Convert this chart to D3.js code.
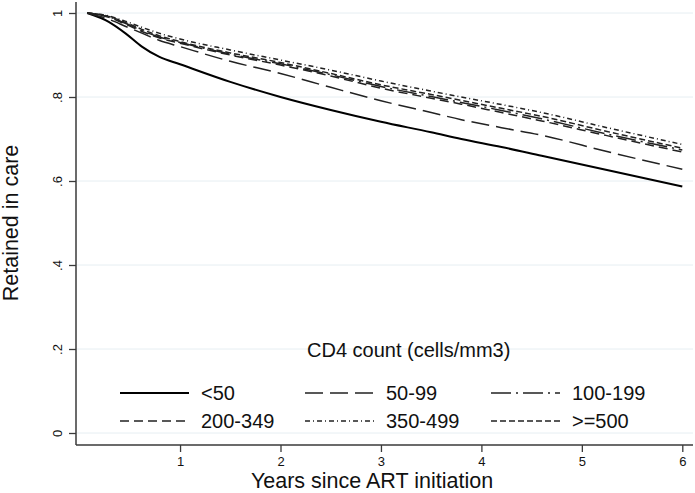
<!DOCTYPE html>
<html>
<head>
<meta charset="utf-8">
<script src="https://cdn.jsdelivr.net/npm/d3@7"></script>
<style>
  html, body { margin: 0; padding: 0; background: #fff; }
  svg { display: block; font-family: "Liberation Sans", Arial, sans-serif; }
</style>
</head>
<body>
<svg id="chart" width="695" height="493"></svg>
<script>
// ---- data ----
const years = [0.075, 0.29, 0.46, 0.62, 0.79, 1.0, 1.5, 2.0, 2.5, 3.0, 3.5, 3.8, 4.2, 4.6, 5.25, 6.0];
const cd4_lt50    = [1, .979, .951, .920, .896, .878, .836, .800, .769, .741, .716, .700, .681, .660, .626, .587];
const cd4_50_99   = [1, .985, .968, .952, .935, .920, .885, .856, .823, .791, .763, .746, .727, .709, .670, .628];
const cd4_100_199 = [1, .991, .975, .958, .943, .930, .902, .879, .853, .825, .801, .787, .768, .748, .712, .674];
const cd4_200_349 = [1, .990, .973, .956, .941, .928, .900, .876, .850, .821, .797, .783, .763, .743, .708, .669];
const cd4_350_499 = [1, .993, .980, .966, .952, .938, .912, .888, .864, .838, .814, .800, .782, .763, .727, .687];
const cd4_ge500   = [1, .992, .977, .961, .946, .932, .905, .882, .856, .829, .806, .792, .773, .754, .718, .678];
const seriesNames = ["<50", "50-99", "100-199", "200-349", "350-499", ">=500"];
const seriesValues = [cd4_lt50, cd4_50_99, cd4_100_199, cd4_200_349, cd4_350_499, cd4_ge500];
const xTicks = [1, 2, 3, 4, 5, 6];
const yTicks = [0, 0.2, 0.4, 0.6, 0.8, 1];
const yTickLabels = ["0", ".2", ".4", ".6", ".8", "1"];

// ---- styles ----
const dashes = [null, "18,7", "20,5,2,5", "9,5", "5,3,1,3", "6,3"];
const widths = [2, 1.5, 1.5, 1.5, 1.5, 1.5];
const colors = ["#000", "#222", "#222", "#222", "#222", "#222"];

const svg = d3.select("#chart");
const x = d3.scaleLinear().domain([0, 6]).range([79.6, 682.3]);
const y = d3.scaleLinear().domain([0, 1]).range([433, 13]);
const plotLeft = 76, plotRight = 693, plotTop = 2, plotBottom = 445;

// gridlines
svg.append("g").selectAll("line").data(yTicks).join("line")
  .attr("x1", plotLeft + 1).attr("x2", plotRight)
  .attr("y1", d => y(d)).attr("y2", d => y(d))
  .attr("stroke", "#e6eef2").attr("stroke-width", 1);

// curves
const line = d3.line().x(d => x(d[0])).y(d => y(d[1])).curve(d3.curveMonotoneX);
seriesValues.forEach((vals, i) => {
  svg.append("path")
    .datum(years.map((t, j) => [t, vals[j]]))
    .attr("d", line)
    .attr("fill", "none")
    .attr("stroke", colors[i])
    .attr("stroke-width", widths[i])
    .attr("stroke-dasharray", dashes[i]);
});

// axes
const axisColor = "#3a3a3a";
const xAxis = svg.append("g").attr("transform", `translate(0,${plotBottom})`)
  .call(d3.axisBottom(x).tickValues(xTicks).tickFormat(d3.format("d")).tickSize(7).tickSizeOuter(0).tickPadding(5));
xAxis.select(".domain").remove();
xAxis.selectAll(".tick line").attr("stroke", axisColor).attr("stroke-width", 1.3);
xAxis.selectAll(".tick text").attr("font-size", 13).attr("fill", "#111")
  .attr("font-family", "Liberation Sans, Arial, sans-serif");
svg.append("line").attr("x1", plotLeft).attr("x2", plotRight)
  .attr("y1", plotBottom).attr("y2", plotBottom)
  .attr("stroke", axisColor).attr("stroke-width", 1.5);

const yAxis = svg.append("g").attr("transform", `translate(${plotLeft},0)`)
  .call(d3.axisLeft(y).tickValues(yTicks).tickFormat((d, i) => yTickLabels[i]).tickSize(7).tickSizeOuter(0));
yAxis.select(".domain").remove();
yAxis.selectAll(".tick line").attr("stroke", axisColor).attr("stroke-width", 1.3);
yAxis.selectAll(".tick text")
  .attr("font-size", 13).attr("fill", "#111")
  .attr("font-family", "Liberation Sans, Arial, sans-serif")
  .attr("text-anchor", "middle").attr("x", null).attr("dy", null)
  .attr("transform", "translate(-14,0) rotate(-90)");
svg.append("line").attr("x1", plotLeft).attr("x2", plotLeft)
  .attr("y1", plotTop).attr("y2", plotBottom)
  .attr("stroke", axisColor).attr("stroke-width", 1.5);

// axis titles
svg.append("text").attr("x", 372).attr("y", 488)
  .attr("text-anchor", "middle").attr("font-size", 21.5).attr("fill", "#111")
  .text("Years since ART initiation");
svg.append("text").attr("transform", "translate(18,223) rotate(-90)")
  .attr("text-anchor", "middle").attr("font-size", 21.5).attr("fill", "#111")
  .text("Retained in care");

// legend
svg.append("text").attr("x", 307).attr("y", 357)
  .attr("font-size", 20).attr("fill", "#111")
  .text("CD4 count (cells/mm3)");
const colX = [120, 305, 491];
const rowY = [393, 421];
seriesNames.forEach((name, i) => {
  const cx = colX[i % 3], cy = rowY[Math.floor(i / 3)];
  svg.append("line").attr("x1", cx).attr("x2", cx + 69)
    .attr("y1", cy).attr("y2", cy)
    .attr("stroke", colors[i]).attr("stroke-width", widths[i])
    .attr("stroke-dasharray", dashes[i]);
  svg.append("text").attr("x", cx + 81).attr("y", cy + 7)
    .attr("font-size", 20).attr("fill", "#111").text(name);
});
</script>
</body>
</html>
